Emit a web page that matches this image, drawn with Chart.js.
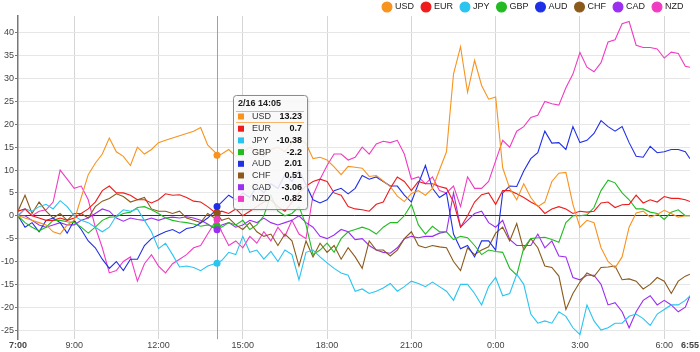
<!DOCTYPE html>
<html>
<head>
<meta charset="utf-8">
<script src="https://cdn.jsdelivr.net/npm/chart.js@4.4.1/dist/chart.umd.min.js"></script>
<style>
html, body { margin: 0; padding: 0; background: #fff; }
</style>
</head>
<body>
<canvas id="fxChart" width="700" height="352"></canvas>
<script>
const times = [
    "7:00","7:15","7:30","7:45","8:00","8:15","8:30","8:45",
    "9:00","9:15","9:30","9:45","10:00","10:15","10:30","10:45",
    "11:00","11:15","11:30","11:45","12:00","12:15","12:30","12:45",
    "13:00","13:15","13:30","13:45","14:00","14:05","14:15","14:30","14:45",
    "15:00","15:15","15:30","15:45","16:00","16:15","16:30","16:45",
    "17:00","17:15","17:30","17:45","18:00","18:15","18:30","18:45",
    "19:00","19:15","19:30","19:45","20:00","20:15","20:30","20:45",
    "21:00","21:15","21:30","21:45","22:00","22:15","22:30","22:45",
    "23:00","23:15","23:30","23:45","0:00","0:15","0:30","0:45",
    "1:00","1:15","1:30","1:45","2:00","2:15","2:30","2:45",
    "3:00","3:15","3:30","3:45","4:00","4:15","4:30","4:45",
    "5:00","5:15","5:30","5:45","6:00","6:15","6:30","6:45","6:55"
];

const currencies = ["USD", "EUR", "JPY", "GBP", "AUD", "CHF", "CAD", "NZD"];
const colors = ["#f7931e", "#ee1c1c", "#2ac4f0", "#22bb22", "#1f2fe6", "#8b5a1b", "#9b2ff0", "#f03cc3"];

const usd = [0,-0.5,-1,-1.5, -2,-3.5,-4,-2, -1,4,9,11.5, 13.5,17,14,13, 11,15,13.5,14.5, 16,16.5,17,17.5,
    18,18.5,19.3,15.5, 14,13.23,13.5,14.5,13, 14,15,14,13, 14.5,15,14,16, 17,15.8,12.5,12.8,
    12.2,10.7,9,10.8, 10.6,10.4,8.6,8.8, 7.6,6.4,4.3,3.1, 4.9,5.5,4.5,6, 10,14,31,37, 27,34,28.5,25.5,
    26,10.5,6,3.5, 7,4,2,3, 7.5,9.3,9.5,2.5, -2.5,-1,-1.5,-7, -10,-11.4,-9,-2.5, 0.6,1,-0.3,0.3, 1.2,0.5,-0.3,0, 0];
const eur = [1,1.5,0,-0.5, -1,-1,-0.5,-1, -0.5,0.5,1.5,3, 5.5,6.5,5,5, 4.5,3.5,3.5,2.8, 3.5,4.8,4.5,4.6,
    4,3.2,3,2, 0.8,0.7,1,0.5,1.5, 0,1,2,3, 3.5,2,1,3, 5,6.5,7.5,8,
    7.5,5,4.5,2, 1.5,1.3,1,2.5, 3,6,8.5,7.5, 5.5,7.5,7,7, 6.4,6,3,-2.5, 0,3,4.6,5,
    2.5,5.5,5.5,4.8, 4,3,2.2,0.5, 1.5,2,1.5,0.5, 1,0.8,1,2.8, 3,1.8,2.4,2.5, 4.5,2.8,3.5,3, 4.2,3.8,3.8,3.5, 3.1];
const jpy = [0,1.5,1,2, 2.5,1.5,3.3,2, 0,-1,-1.5,-2.5, -3.5,-2.5,0,1.3, 1,1.5,-1,-3.5, -7.2,-6,-8.5,-11.2,
    -11,-11.3,-12,-11, -10.5,-10.38,-9.8,-8,-8.5, -4.5,-8,-7.5,-9.5, -7.8,-10,-7.5,-8.5, -14,-8,-7.5,-9,
    -10.3,-11.5,-12.5,-13, -16.5,-16,-17,-16.5, -15.8,-14.8,-16.5,-15.5, -14.3,-14.8,-15.5,-14.5, -15.5,-16.5,-18.5,-15, -15,-17,-19.5,-15.5,
    -13.5,-17.5,-17,-12.8, -15,-21.5,-23.5,-23, -23.5,-21,-22,-24.5, -26,-19.5,-23,-25, -24.5,-23.5,-23.5,-22, -21.5,-22.5,-24,-21.5, -20.5,-19.5,-19.5,-18.5, -17.5];
const gbp = [0,-1.5,-2.5,-3.3, -2.5,-1,-1,-1.3, -1.5,-2.5,-3.8,-2.5, -1,-0.3,-0.2,0.5, 0.8,1.8,2,1.3, 0.5,-0.5,-1,-1.3,
    -1.5,-1.8,-2.3,-2, -2.5,-2.2,-2.5,-1.5,-2, -1,-3,-2,0, 4.5,1,0,0.5, 2,-2,-8.5,-7.5,
    -6,-8,-5,-3.5, -3,-2.5,-3,-4, -2.5,-1.5,-1.5,0, 2.5,-2,-4,-2.3, -3.5,-3.5,-5.2,-4.5, -4.8,-6.5,-8.5,-7.5,
    -7.8,-8,-11.5,-13, -7,-5,-4.8,-4.7, -5.2,-5.8,-1.5,0, 0,0.2,1.8,5.5, 7.8,7.2,5,3.5, 1.5,1.5,0.8,0.5, -0.8,0.8,1.3,0, 0];
const aud = [0,-2.5,-1.5,-3.5, -1,-0.5,-1.5,-3.8, -1,-3,-5.5,-7, -9.5,-11.5,-10,-12, -9.5,-9.5,-6.5,-5, -4.2,-3.5,-3,-3.8,
    -2.8,-2.5,-1.6,-0.5, 1,2.01,3,4.5,3.5, 5,4,6.5,5, 7,6,9,7.5, 10,6.8,3.5,2.8,
    3.5,5.5,6,4.8, 6,8.8,8,8.5, 7.5,6.5,6.5,4.5, 3,7,11,6, 4,5,-4,-7.2, -6.5,-9,-5.5,-5.5,
    -7.5,5,6.5,6.4, 9.8,12.5,13.8,18.5, 15.9,16,14.5,19.5, 16,16.5,18,20.8, 19.5,18.5,19.5,16, 13,12.8,15.2,13.8, 14,14.5,14.5,14, 12.5];
const chf = [1,4.5,0.5,3, 1,-0.5,0.5,-1, 0.5,0.5,-0.5,2, 3.2,3.8,4.8,4.2, 3,3.5,4,1.5, 1,1,0.5,1,
    -0.5,-1,-1.5,0.5, -0.5,0.51,-1,-0.5,-2, -3,-1.5,-3.5,-4.5, -4,-6.5,-4,-5.5, -11,-5.5,-9,-6,
    -8,-6.5,-9.5,-7, -9,-11.5,-5.5,-7.5, -7.5,-8.8,-7.5,-5, -3.5,-6.5,-7,-6.5, -6.8,-7,-10,-12, -7,-8.5,-7.5,-6.8,
    -3.8,-2.5,-5.5,-1.7, -7.5,-5,-7,-11, -11.3,-13.2,-20.5,-17, -14.5,-12.5,-13.3,-11.3, -11.2,-11,-14,-13.8, -14.3,-16,-15,-13.5, -14.3,-17,-14.3,-13.2, -12.8];
const cad = [0,0,-1,-2, -2.5,-2,-1.5,-2, -2,-1,-0.5,0.5, 1.5,1,-0.5,-1.2, -0.5,-0.8,-1,-0.5, -1,-0.5,-0.3,-0.5,
    -0.2,-0.5,-1,-1.8, -2.8,-3.06,-2,-1.5,-2.5, -2,-1,-1.5,-0.5, -1.5,-2,-1.5,-1, 0,-1.5,-2.5,-4.5,
    -5,-4.2,-3,-3.5, -5.2,-5,-6.5,-7.5, -8,-8.2,-7,-5, -4.5,-4.8,-4.5,-4.5, -3.8,-3.5,5,-2.5, -1,0.5,1,-1.5,
    -2.5,-1,-5.2,-6.5, -6.5,-6.5,-4,-7, -5.5,-8.8,-9,-13.5, -14,-13,-13,-15, -19.5,-19,-21,-24.5, -21,-18.5,-17.5,-19.5, -18.5,-19.5,-21,-20, -17.5];
const nzd = [0,1.5,0,1, 1.3,3,10,8, 6,6.5,3.5,-2.5, -7,-12.5,-12,-10, -9,-14.3,-10.5,-8.5, -11,-12.5,-10.5,-9.5,
    -8.5,-7,-6.5,-4, -1.5,-0.82,-3.5,-6.5,-5.5, -7,-4.5,-6,-3.5, -5.5,-2.5,-4.5,-1, -4,-5,4.5,8,
    11,13.5,13.5,12.2, 12.8,15,13.5,15.7, 16.3,16,16.5,13.5, 8,8.5,7,8.5, 5.5,5,6.5,2, 8.5,6,6,7.5,
    12,16.5,15,18.5, 19.5,21.5,22,25, 24.5,24.2,28,31, 35.7,32.5,31.5,33.5, 38,38.5,42,42.5, 37.3,36.8,36.8,36.5, 34.5,35.8,35.5,32.7, 32.5];

const seriesValues = [usd, eur, jpy, gbp, aud, chf, cad, nzd];

const tickTimes = ["7:00", "9:00", "12:00", "15:00", "18:00", "21:00", "0:00", "3:00", "6:00", "6:55"];
const yTickValues = [-25, -20, -15, -10, -5, 0, 5, 10, 15, 20, 25, 30, 35, 40];

const hoverTime = "14:05";
const hoverTitle = "2/16 14:05";

function toMinutes(t) {
    const parts = t.split(":");
    const h = (Number(parts[0]) - 7 + 24) % 24;
    return h * 60 + Number(parts[1]);
}

const fontFamily = "Arial, 'Liberation Sans', sans-serif";
Chart.defaults.font.family = fontFamily;

const datasets = currencies.map((name, i) => ({
    label: name,
    data: seriesValues[i].map((v, j) => ({ x: toMinutes(times[j]), y: v })),
    borderColor: colors[i],
    backgroundColor: colors[i],
    borderWidth: 1.1,
    pointRadius: 0,
    tension: 0,
    fill: false
}));

// keep the legend row short so the plot starts right under it
const legendHeightPlugin = {
    id: "legendHeight",
    beforeInit(chart) {
        const fit = chart.legend.fit;
        chart.legend.fit = function() {
            fit.call(this);
            this.height = 22;
        };
    }
};

// crosshair, markers and the fixed tooltip at 14:05
const hoverPlugin = {
    id: "hoverPlugin",
    beforeDatasetsDraw(chart) {
        const ctx = chart.ctx;
        const area = chart.chartArea;
        const x = Math.round(chart.scales.x.getPixelForValue(toMinutes(hoverTime))) + 0.5;
        ctx.save();
        ctx.strokeStyle = "#a0a0a0";
        ctx.lineWidth = 1;
        ctx.beginPath();
        ctx.moveTo(x, area.top);
        ctx.lineTo(x, area.bottom);
        ctx.stroke();
        ctx.restore();
    },
    afterDatasetsDraw(chart) {
        const ctx = chart.ctx;
        const area = chart.chartArea;
        const idx = times.indexOf(hoverTime);
        const x = chart.scales.x.getPixelForValue(toMinutes(hoverTime));

        ctx.save();
        currencies.forEach((name, i) => {
            const y = chart.scales.y.getPixelForValue(seriesValues[i][idx]);
            ctx.fillStyle = colors[i];
            ctx.beginPath();
            ctx.arc(x, y, 3.5, 0, Math.PI * 2);
            ctx.fill();
        });

        const left = Math.round(x) + 16;
        const top = Math.round(area.top) + 79;
        const w = 74;
        const h = 114;
        const r = 3;

        ctx.shadowColor = "rgba(0,0,0,0.2)";
        ctx.shadowBlur = 3;
        ctx.shadowOffsetX = 1;
        ctx.shadowOffsetY = 1;
        ctx.fillStyle = "rgba(255,255,255,0.85)";
        ctx.beginPath();
        ctx.roundRect(left + 0.5, top + 0.5, w, h, r);
        ctx.fill();
        ctx.shadowColor = "transparent";
        ctx.strokeStyle = "#8c8c8c";
        ctx.lineWidth = 1;
        ctx.stroke();

        ctx.textBaseline = "middle";
        ctx.fillStyle = "#222";
        ctx.font = "bold 9px " + fontFamily;
        ctx.textAlign = "left";
        ctx.fillText(hoverTitle, left + 5, top + 9);

        ctx.strokeStyle = "#f7b46a";
        ctx.beginPath();
        ctx.moveTo(left + 3, top + 16.5);
        ctx.lineTo(left + w - 3, top + 16.5);
        ctx.moveTo(left + 3, top + 27.5);
        ctx.lineTo(left + w - 3, top + 27.5);
        ctx.stroke();

        currencies.forEach((name, i) => {
            const rowY = top + 21.5 + i * 11.7 + (i > 0 ? 0.5 : 0);
            ctx.fillStyle = colors[i];
            ctx.fillRect(left + 5, rowY - 3, 6, 6);
            ctx.fillStyle = "#333";
            ctx.font = "9px " + fontFamily;
            ctx.textAlign = "left";
            ctx.fillText(name, left + 19, rowY);
            ctx.fillStyle = "#111";
            ctx.font = "bold 9px " + fontFamily;
            ctx.textAlign = "right";
            ctx.fillText(String(seriesValues[i][idx]), left + w - 5, rowY);
        });
        ctx.restore();
    }
};

const ctx = document.getElementById("fxChart").getContext("2d");

new Chart(ctx, {
    type: "line",
    data: { datasets: datasets },
    options: {
        responsive: false,
        devicePixelRatio: 1,
        animation: false,
        events: [],
        layout: { padding: { left: 0, right: 8, top: -6, bottom: 0 } },
        plugins: {
            tooltip: { enabled: false },
            legend: {
                position: "top",
                align: "end",
                labels: {
                    usePointStyle: true,
                    pointStyle: "circle",
                    boxWidth: 7,
                    boxHeight: 7,
                    padding: 8.5,
                    color: "#222",
                    font: { size: 9 }
                }
            }
        },
        scales: {
            x: {
                type: "linear",
                min: 0,
                max: toMinutes("6:55"),
                afterBuildTicks(axis) {
                    axis.ticks = tickTimes.map(t => ({ value: toMinutes(t) }));
                },
                grid: {
                    color: c => (c.index === 0 || c.index === tickTimes.length - 1) ? "rgba(0,0,0,0)" : "#d6d6d6",
                    drawTicks: false
                },
                border: { display: false },
                ticks: {
                    autoSkip: false,
                    maxRotation: 0,
                    padding: 1,
                    color: "#444",
                    font: c => ({ size: 9, weight: (c.index === 0 || c.index === tickTimes.length - 1) ? "bold" : "normal" }),
                    callback: (value, i) => tickTimes[i]
                }
            },
            y: {
                min: -27,
                max: 43.7,
                afterBuildTicks(axis) {
                    axis.ticks = yTickValues.map(v => ({ value: v }));
                },
                ticks: {
                    padding: 1,
                    color: "#444",
                    font: { size: 9 }
                },
                grid: {
                    color: c => c.tick && c.tick.value === 0 ? "#333" : "#e6e6e6",
                    tickColor: "#777",
                    tickLength: 3
                },
                border: { color: "#777", width: 1.5 }
            }
        }
    },
    plugins: [legendHeightPlugin, hoverPlugin]
});
</script>
</body>
</html>
